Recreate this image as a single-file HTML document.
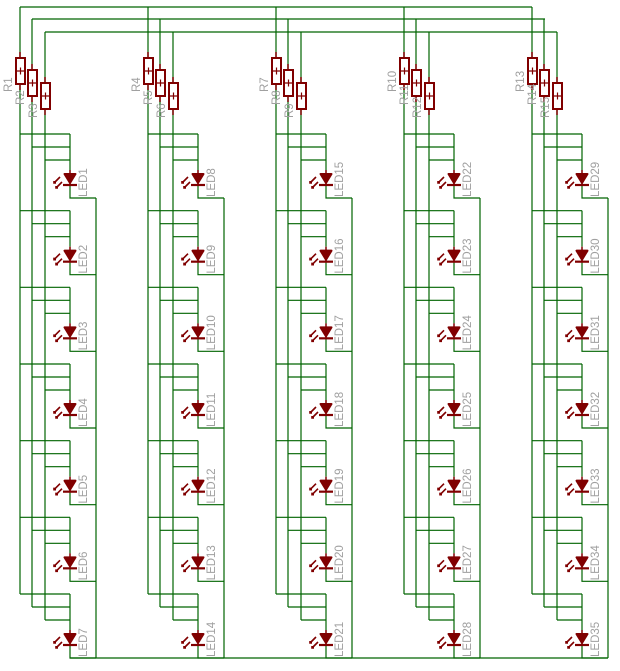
<!DOCTYPE html>
<html><head><meta charset="utf-8"><style>
html,body{margin:0;padding:0;background:#fff;}
svg{display:block;}
text{font-family:"Liberation Sans",sans-serif;font-size:11.5px;fill:#a0a0a0;}
</style></head><body>
<svg width="620" height="671" viewBox="0 0 620 671" xmlns="http://www.w3.org/2000/svg">
<defs>
<g id="cell">
  <path d="M0,0H50M12,13H50M25,26H50M50,0V36M50,52V64H76" stroke="#006400" stroke-width="1.2" fill="none"/>
  <path d="M50,36V52" stroke="#800000" stroke-width="1.5"/>
  <path d="M44.5,40H55.5L50,49Z" fill="#800000" stroke="#800000" stroke-width="2" stroke-linejoin="round"/>
  <path d="M43,51H57" stroke="#800000" stroke-width="2.2"/>
  <path d="M40,43L34,49M36,49h-2v-2M42,48L36,54M38,54h-2v-2" stroke="#800000" stroke-width="1.6" fill="none"/>
</g>
<g id="grp">
  <path d="M0,7V594M12,19V607M25,32V620M76,198V658" stroke="#006400" stroke-width="1.2" fill="none"/>
  <g stroke="#800000" fill="#fff" stroke-width="2">
    <path d="M0,52V58M0,84V90M12,64V70M12,96V102M25,77V83M25,109V115" fill="none" stroke-width="1.5"/>
    <rect x="-4" y="58" width="9" height="26"/>
    <rect x="8" y="70" width="9" height="26"/>
    <rect x="21" y="83" width="9" height="26"/>
    <path d="M-3,71H4M0.5,67.5V74.5M9,83H16M12.5,79.5V86.5M22,96H29M25.5,92.5V99.5" stroke-width="1.2"/>
  </g>
  <use href="#cell" transform="translate(0,134)"/>
  <use href="#cell" transform="translate(0,210.67)"/>
  <use href="#cell" transform="translate(0,287.33)"/>
  <use href="#cell" transform="translate(0,364)"/>
  <use href="#cell" transform="translate(0,440.67)"/>
  <use href="#cell" transform="translate(0,517.33)"/>
  <use href="#cell" transform="translate(0,594)"/>
</g>
</defs>
<path d="M20,7H532M32,19H545M45,32H557M70,658H608" stroke="#006400" stroke-width="1.2" fill="none"/>
<use href="#grp" transform="translate(20,0)"/>
<use href="#grp" transform="translate(148,0)"/>
<use href="#grp" transform="translate(276,0)"/>
<use href="#grp" transform="translate(404,0)"/>
<use href="#grp" transform="translate(532,0)"/>
<g>
<text transform="translate(12,92) rotate(-90)">R1</text>
<text transform="translate(24,105) rotate(-90)">R2</text>
<text transform="translate(37,118) rotate(-90)">R3</text>
<text transform="translate(140,92) rotate(-90)">R4</text>
<text transform="translate(152,105) rotate(-90)">R5</text>
<text transform="translate(165,118) rotate(-90)">R6</text>
<text transform="translate(268,92) rotate(-90)">R7</text>
<text transform="translate(280,105) rotate(-90)">R8</text>
<text transform="translate(293,118) rotate(-90)">R9</text>
<text transform="translate(396,92) rotate(-90)">R10</text>
<text transform="translate(408,105) rotate(-90)">R11</text>
<text transform="translate(421,118) rotate(-90)">R12</text>
<text transform="translate(524,92) rotate(-90)">R13</text>
<text transform="translate(536,105) rotate(-90)">R14</text>
<text transform="translate(549,118) rotate(-90)">R15</text>
</g>
<g>
<text transform="translate(87,197) rotate(-90)">LED1</text>
<text transform="translate(87,273.67) rotate(-90)">LED2</text>
<text transform="translate(87,350.33) rotate(-90)">LED3</text>
<text transform="translate(87,427) rotate(-90)">LED4</text>
<text transform="translate(87,503.67) rotate(-90)">LED5</text>
<text transform="translate(87,580.33) rotate(-90)">LED6</text>
<text transform="translate(87,657) rotate(-90)">LED7</text>
<text transform="translate(215,197) rotate(-90)">LED8</text>
<text transform="translate(215,273.67) rotate(-90)">LED9</text>
<text transform="translate(215,350.33) rotate(-90)">LED10</text>
<text transform="translate(215,427) rotate(-90)">LED11</text>
<text transform="translate(215,503.67) rotate(-90)">LED12</text>
<text transform="translate(215,580.33) rotate(-90)">LED13</text>
<text transform="translate(215,657) rotate(-90)">LED14</text>
<text transform="translate(343,197) rotate(-90)">LED15</text>
<text transform="translate(343,273.67) rotate(-90)">LED16</text>
<text transform="translate(343,350.33) rotate(-90)">LED17</text>
<text transform="translate(343,427) rotate(-90)">LED18</text>
<text transform="translate(343,503.67) rotate(-90)">LED19</text>
<text transform="translate(343,580.33) rotate(-90)">LED20</text>
<text transform="translate(343,657) rotate(-90)">LED21</text>
<text transform="translate(471,197) rotate(-90)">LED22</text>
<text transform="translate(471,273.67) rotate(-90)">LED23</text>
<text transform="translate(471,350.33) rotate(-90)">LED24</text>
<text transform="translate(471,427) rotate(-90)">LED25</text>
<text transform="translate(471,503.67) rotate(-90)">LED26</text>
<text transform="translate(471,580.33) rotate(-90)">LED27</text>
<text transform="translate(471,657) rotate(-90)">LED28</text>
<text transform="translate(599,197) rotate(-90)">LED29</text>
<text transform="translate(599,273.67) rotate(-90)">LED30</text>
<text transform="translate(599,350.33) rotate(-90)">LED31</text>
<text transform="translate(599,427) rotate(-90)">LED32</text>
<text transform="translate(599,503.67) rotate(-90)">LED33</text>
<text transform="translate(599,580.33) rotate(-90)">LED34</text>
<text transform="translate(599,657) rotate(-90)">LED35</text>
</g>
</svg>
</body></html>
